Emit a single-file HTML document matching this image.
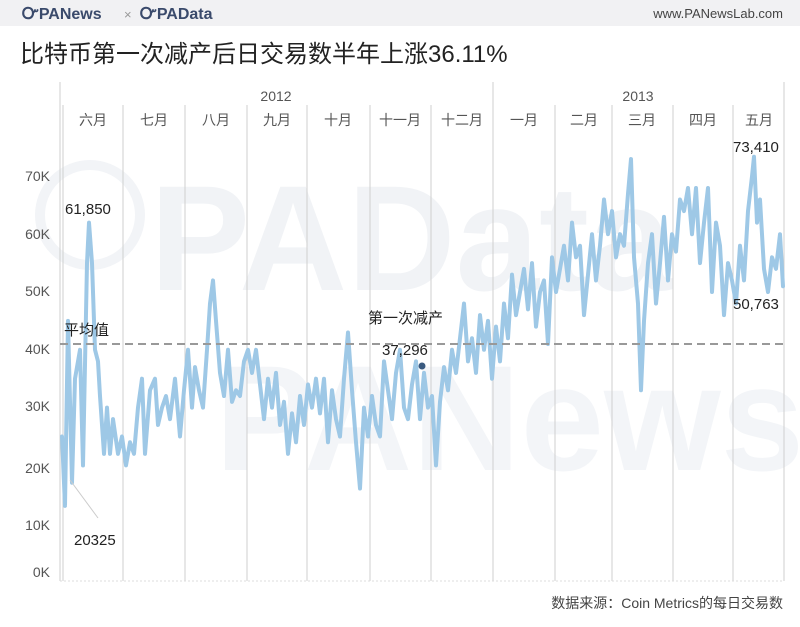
<!DOCTYPE html>
<html><head><meta charset="utf-8"><style>
body{margin:0;width:800px;height:622px;overflow:hidden;background:#fff;font-family:"Liberation Sans","Noto Sans CJK SC",sans-serif;}
</style></head><body>
<svg width="800" height="622" viewBox="0 0 800 622" xmlns="http://www.w3.org/2000/svg" font-family="Liberation Sans, Noto Sans CJK SC, sans-serif">
<rect x="0" y="0" width="800" height="26" fill="#f1f1f3"/>
<text x="22" y="19" font-size="16" font-weight="bold" fill="#3a4a6b">ᏅPANews</text>
<text x="124" y="19" font-size="13" fill="#999">×</text>
<text x="140" y="19" font-size="16" font-weight="bold" fill="#3a4a6b">ᏅPAData</text>
<text x="783" y="18" font-size="13" fill="#444" text-anchor="end">www.PANewsLab.com</text>
<text x="20" y="62" font-size="24" fill="#222">比特币第一次减产后日交易数半年上涨36.11%</text>
<!-- watermark -->
<text x="150" y="290" font-size="150" font-weight="bold" fill="#f1f3f6">PAData</text>
<text x="215" y="470" font-size="150" font-weight="bold" fill="#f3f5f8">PANews</text>
<circle cx="90" cy="215" r="50" fill="none" stroke="#f2f4f7" stroke-width="10"/>
<!-- grid -->
<g stroke="#cfcfcf" stroke-width="1">
<line x1="60" y1="82" x2="60" y2="581"/>
<line x1="493" y1="82" x2="493" y2="581"/>
<line x1="784" y1="82" x2="784" y2="581"/>
<line x1="63" y1="105" x2="63" y2="581"/>
<line x1="123" y1="105" x2="123" y2="581"/>
<line x1="185" y1="105" x2="185" y2="581"/>
<line x1="247" y1="105" x2="247" y2="581"/>
<line x1="307" y1="105" x2="307" y2="581"/>
<line x1="370" y1="105" x2="370" y2="581"/>
<line x1="431" y1="105" x2="431" y2="581"/>
<line x1="555" y1="105" x2="555" y2="581"/>
<line x1="612" y1="105" x2="612" y2="581"/>
<line x1="673" y1="105" x2="673" y2="581"/>
<line x1="733" y1="105" x2="733" y2="581"/>
</g>
<line x1="60" y1="581" x2="784" y2="581" stroke="#ddd" stroke-dasharray="2,2"/>
<g font-size="14" fill="#555" text-anchor="middle">
<text x="276" y="101">2012</text><text x="638" y="101">2013</text>
<text x="93" y="125">六月</text><text x="154" y="125">七月</text><text x="216" y="125">八月</text>
<text x="277" y="125">九月</text><text x="338" y="125">十月</text><text x="400" y="125">十一月</text>
<text x="462" y="125">十二月</text><text x="524" y="125">一月</text><text x="584" y="125">二月</text>
<text x="642" y="125">三月</text><text x="703" y="125">四月</text><text x="759" y="125">五月</text>
</g>
<g font-size="14" fill="#555" text-anchor="end">
<text x="50" y="181">70K</text><text x="50" y="239">60K</text><text x="50" y="296">50K</text>
<text x="50" y="354">40K</text><text x="50" y="411">30K</text><text x="50" y="473">20K</text>
<text x="50" y="530">10K</text><text x="50" y="577">0K</text>
</g>
<g transform="translate(0,581) scale(1,-5.78)">
<polyline fill="none" stroke="#9ec8e6" stroke-width="4" vector-effect="non-scaling-stroke" stroke-linejoin="round" stroke-linecap="round" points="
62,25 65,13 68,45 72,17 75,35 80,40 83,20 87,55 89,62 92,55 95,40 98,38 100,32 104,22 107,30 110,22 113,28 118,22 122,25 126,20 130,24 134,22 138,30 142,35 145,22 150,33 155,35 158,27 162,30 166,32 170,28 175,35 180,25 184,33 188,40 192,30 195,37 199,33 203,30 207,40 210,48 213,52 216,45 220,36 224,32 228,40 232,31 236,33 240,32 244,38 248,40 252,36 256,40 260,34 264,28 268,35 272,30 276,36 280,27 284,31 288,22 292,29 296,24 300,32 304,27 308,34 312,30 316,35 320,29 324,35 328,24 332,33 336,28 340,25 344,35 348,43 352,33 356,24 360,16 364,30 368,25 372,32 376,27 380,25 384,38 388,33 392,28 396,36 400,40 404,30 408,28 412,34 416,38 420,28 424,36 428,30 432,32 436,20 440,31 444,37 448,33 452,40 456,36 460,42 464,48 468,38 472,42 476,36 480,46 484,40 488,45 492,35 496,44 500,38 504,48 508,42 512,53 516,46 520,50 524,54 528,47 532,55 536,44 540,50 544,52 548,41 552,56 556,50 560,54 564,58 568,52 572,62 576,56 580,58 584,46 588,53 592,60 596,52 600,58 604,66 608,60 612,64 616,56 620,60 624,58 628,67 631,73 634,56 638,48 641,33 644,45 648,55 652,60 656,48 660,55 664,63 668,52 672,60 676,57 680,66 684,64 688,68 692,60 696,68 700,55 704,62 708,68 712,50 716,62 720,58 724,46 728,55 732,52 736,48 740,58 744,52 748,64 752,70 754,73.4 757,62 760,66 764,54 768,50 772,56 776,54 780,60 783,51"/>
</g>
<line x1="60" y1="344" x2="784" y2="344" stroke="#999" stroke-width="2" stroke-dasharray="8,5"/>
<line x1="70" y1="480" x2="98" y2="518" stroke="#ccc"/>
<circle cx="422" cy="366" r="3.5" fill="#3a5a80"/>
<g font-size="15" fill="#222">
<text x="65" y="214">61,850</text>
<text x="64" y="335">平均值</text>
<text x="368" y="323">第一次减产</text>
<text x="382" y="355">37,296</text>
<text x="733" y="152">73,410</text>
<text x="733" y="309">50,763</text>
<text x="74" y="545">20325</text>
</g>
<text x="783" y="608" font-size="14" fill="#444" text-anchor="end">数据来源：Coin Metrics的每日交易数</text>
</svg>
</body></html>
